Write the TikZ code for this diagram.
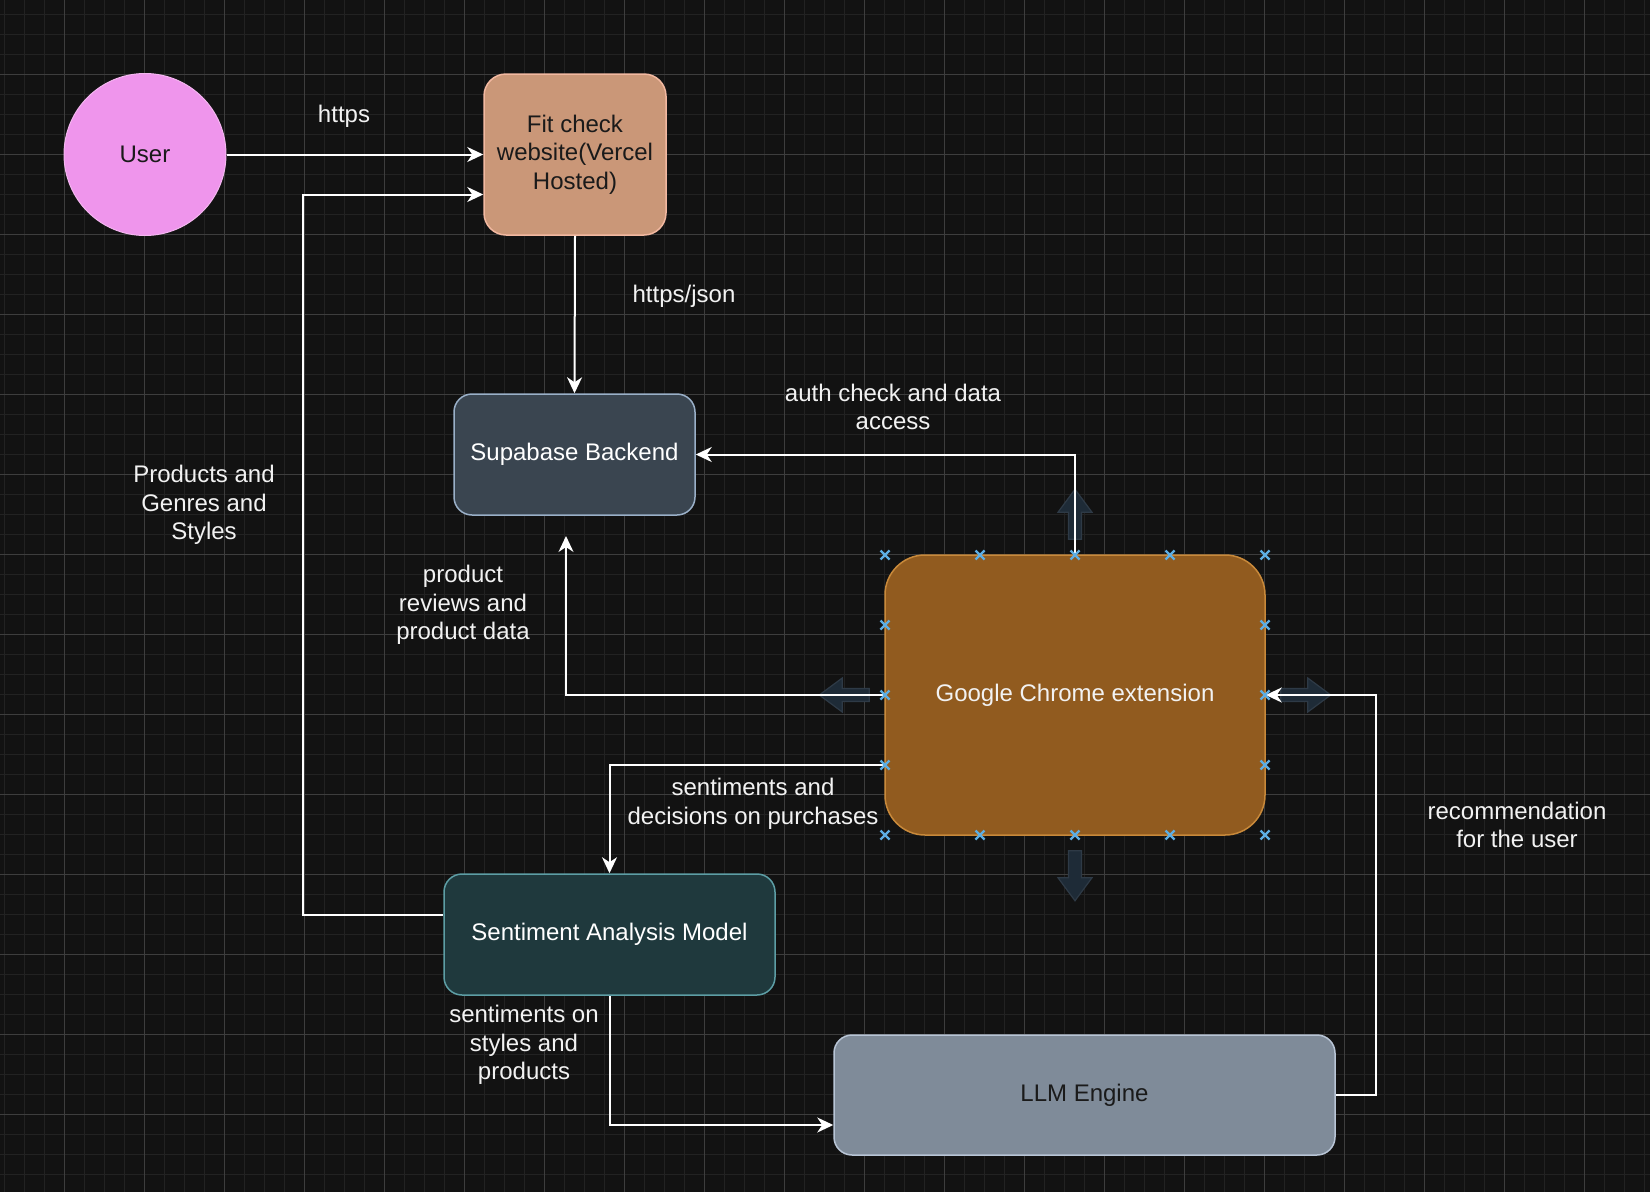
\documentclass[tikz,border=0pt]{standalone}
\usepackage{fontspec}
\setmainfont{Liberation Sans}
\usetikzlibrary{arrows.meta}

\definecolor{bgdark}{HTML}{121212}
\definecolor{gridminor}{HTML}{222222}
\definecolor{gridmajor}{HTML}{3D3D3D}
\definecolor{userpink}{HTML}{EF95EC}
\definecolor{userline}{HTML}{F4B6F0}
\definecolor{fitfill}{HTML}{CA9778}
\definecolor{fitline}{HTML}{F2B8A0}
\definecolor{supafill}{HTML}{3A4550}
\definecolor{supaline}{HTML}{9AB0C8}
\definecolor{extfill}{HTML}{915B1F}
\definecolor{extline}{HTML}{C8893A}
\definecolor{samfill}{HTML}{1F393D}
\definecolor{samline}{HTML}{5D9EA5}
\definecolor{llmfill}{HTML}{7F8B99}
\definecolor{llmline}{HTML}{B8C5D6}
\definecolor{darktext}{HTML}{1A1A1A}
\definecolor{labelwhite}{HTML}{F2F2F2}
\definecolor{hoverfill}{HTML}{1E2B37}
\definecolor{hoverline}{HTML}{2E3A46}
\definecolor{handleblue}{HTML}{5DAEE3}

\newcommand{\txt}{\fontsize{24}{28.5}\selectfont}

\begin{document}
\begin{tikzpicture}[x=1pt,y=-1pt,
    box/.style={rectangle, rounded corners=18pt, line width=1.5pt, inner sep=0pt, align=center, font=\txt},
    flow/.style={draw=white, line width=2pt, -{Stealth[length=16pt,width=15pt,inset=5pt]}},
    lbl/.style={text=labelwhite, align=center, font=\txt, inner sep=0pt},
    hover/.style={fill=hoverfill, draw=hoverline, line width=1.2pt},
    handle/.style={draw=handleblue, line width=2.2pt}]
   \useasboundingbox (0,0) rectangle (1650,1192);
   % background and grid
   \fill[bgdark] (0,0) rectangle (1650,1192);
   \foreach \gx in {4,24,...,1650} \draw[gridminor, line width=1pt] (\gx,0) -- (\gx,1192);
   \foreach \gy in {14,34,...,1192} \draw[gridminor, line width=1pt] (0,\gy) -- (1650,\gy);
   \foreach \gx in {64,144,...,1650} \draw[gridmajor, line width=1pt] (\gx,0) -- (\gx,1192);
   \foreach \gy in {74,154,...,1192} \draw[gridmajor, line width=1pt] (0,\gy) -- (1650,\gy);

   % blocks
   \node[circle, fill=userpink, draw=userline, line width=1pt, minimum size=162pt, inner sep=0pt,
         text=darktext, font=\txt] (user) at (145,154.5) {User};
   \node[box, fill=fitfill, draw=fitline, text=darktext, rounded corners=22pt,
         minimum width=182pt, minimum height=161pt] (fit) at (575,154.5) {Fit check\\website(Vercel\\Hosted)};
   \node[box, fill=supafill, draw=supaline, text=white,
         minimum width=241pt, minimum height=121pt] (supa) at (574.5,454.5) {Supabase Backend};
   \node[box, fill=extfill, draw=extline, text=labelwhite, rounded corners=40pt,
         minimum width=380pt, minimum height=280pt] (ext) at (1075,695) {Google Chrome extension};
   \node[box, fill=samfill, draw=samline, text=white,
         minimum width=331pt, minimum height=121pt] (sam) at (609.5,934.5) {Sentiment Analysis Model};
   \node[box, fill=llmfill, draw=llmline, text=darktext,
         minimum width=501pt, minimum height=120pt] (llm) at (1084.5,1095) {LLM Engine};
   \coordinate (prtip) at (566,536);

   % hover arrows round the extension
   \foreach \ang/\anc in {90/north,270/south,180/west,0/east}
     \filldraw[hover, shift={(ext.\anc)}, rotate=\ang]
       (15,-6.5) -- (42,-6.5) -- (42,-17) -- (65,0) -- (42,17) -- (42,6.5) -- (15,6.5) -- cycle;

   % connectors
   \draw[flow] (user) -- (fit.west);
   \draw[flow] ([yshift=20pt]sam.west) -- ++(-140,0) |- ([yshift=-40pt]fit.west);
   \draw[flow] (fit.south) -- (supa.north);
   \draw[flow] (ext.north) |- (supa.east);
   \draw[flow] (ext.west) -| (prtip);
   \draw[flow] ([yshift=-70pt]ext.west) -| (sam.north);
   \draw[flow] (sam.south) |- ([yshift=-30pt]llm.west);
   \draw[flow] (llm.east) -- ++(40,0) |- (ext.east);

   % labels
   \node[lbl] (lhttps) at (344,116) {https};
   \node[lbl] (ljson) at (684,296) {https/json};
   \node[lbl] (lauth) at (893,407) {auth check and data\\access};
   \node[lbl] (lgenre) at (204,505) {Products and\\Genres and\\Styles};
   \node[lbl] (lreview) at (463,605) {product\\reviews and\\product data};
   \node[lbl] (ldecide) at (753,804) {sentiments and\\decisions on purchases};
   \node[lbl] (lstyle) at (524,1045) {sentiments on\\styles and\\products};
   \node[lbl] (lrec) at (1517,825) {recommendation\\for the user};

   % selection handles
   \foreach \px in {885,980,1075,1170,1265}
     \foreach \py in {555,835}
       \draw[handle] (\px-4.5,\py-4.5) -- (\px+4.5,\py+4.5) (\px-4.5,\py+4.5) -- (\px+4.5,\py-4.5);
   \foreach \px in {885,1265}
     \foreach \py in {625,695,765}
       \draw[handle] (\px-4.5,\py-4.5) -- (\px+4.5,\py+4.5) (\px-4.5,\py+4.5) -- (\px+4.5,\py-4.5);
\end{tikzpicture}
\end{document}
